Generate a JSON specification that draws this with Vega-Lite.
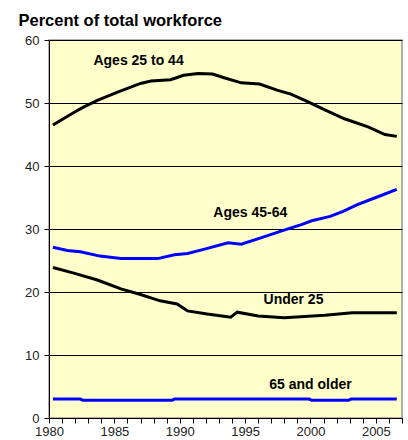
{
  "$schema": "https://vega.github.io/schema/vega-lite/v6.json",
  "width": 353,
  "height": 378,
  "autosize": "none",
  "padding": {"top": 40, "left": 49, "right": 6, "bottom": 22},
  "background": "white",
  "config": {
    "font": "Liberation Sans",
    "view": {"fill": "#FFFFCC", "stroke": "#999999", "strokeWidth": 1.5},
    "axis": {
      "labelFont": "Liberation Sans",
      "labelFontSize": 13,
      "labelColor": "#222222",
      "domainColor": "#000000",
      "tickColor": "#000000",
      "tickSize": 5,
      "labelOverlap": false,
      "labelBound": false,
      "labelFlush": false
    }
  },
  "datasets": {
    "lines": [
      {"series": "Ages 25 to 44", "year": 1980.3, "value": 46.5},
      {"series": "Ages 25 to 44", "year": 1981.1, "value": 47.5},
      {"series": "Ages 25 to 44", "year": 1982.0, "value": 48.6},
      {"series": "Ages 25 to 44", "year": 1982.6, "value": 49.3},
      {"series": "Ages 25 to 44", "year": 1983.7, "value": 50.4},
      {"series": "Ages 25 to 44", "year": 1985.2, "value": 51.7},
      {"series": "Ages 25 to 44", "year": 1987.0, "value": 53.1},
      {"series": "Ages 25 to 44", "year": 1987.8, "value": 53.5},
      {"series": "Ages 25 to 44", "year": 1989.3, "value": 53.7},
      {"series": "Ages 25 to 44", "year": 1990.3, "value": 54.4},
      {"series": "Ages 25 to 44", "year": 1991.4, "value": 54.7},
      {"series": "Ages 25 to 44", "year": 1992.5, "value": 54.6},
      {"series": "Ages 25 to 44", "year": 1993.4, "value": 54.0},
      {"series": "Ages 25 to 44", "year": 1994.7, "value": 53.2},
      {"series": "Ages 25 to 44", "year": 1996.1, "value": 53.0},
      {"series": "Ages 25 to 44", "year": 1997.5, "value": 52.0},
      {"series": "Ages 25 to 44", "year": 1998.5, "value": 51.4},
      {"series": "Ages 25 to 44", "year": 1999.7, "value": 50.3},
      {"series": "Ages 25 to 44", "year": 2001.1, "value": 48.9},
      {"series": "Ages 25 to 44", "year": 2002.6, "value": 47.5},
      {"series": "Ages 25 to 44", "year": 2004.4, "value": 46.2},
      {"series": "Ages 25 to 44", "year": 2005.7, "value": 45.0},
      {"series": "Ages 25 to 44", "year": 2006.6, "value": 44.7},

      {"series": "Ages 45-64", "year": 1980.3, "value": 27.1},
      {"series": "Ages 45-64", "year": 1981.4, "value": 26.6},
      {"series": "Ages 45-64", "year": 1982.4, "value": 26.4},
      {"series": "Ages 45-64", "year": 1983.9, "value": 25.7},
      {"series": "Ages 45-64", "year": 1985.5, "value": 25.3},
      {"series": "Ages 45-64", "year": 1988.3, "value": 25.3},
      {"series": "Ages 45-64", "year": 1989.6, "value": 25.9},
      {"series": "Ages 45-64", "year": 1990.6, "value": 26.1},
      {"series": "Ages 45-64", "year": 1991.9, "value": 26.8},
      {"series": "Ages 45-64", "year": 1993.7, "value": 27.8},
      {"series": "Ages 45-64", "year": 1994.7, "value": 27.6},
      {"series": "Ages 45-64", "year": 1996.2, "value": 28.6},
      {"series": "Ages 45-64", "year": 1997.8, "value": 29.7},
      {"series": "Ages 45-64", "year": 1999.3, "value": 30.7},
      {"series": "Ages 45-64", "year": 2000.1, "value": 31.3},
      {"series": "Ages 45-64", "year": 2001.5, "value": 32.0},
      {"series": "Ages 45-64", "year": 2002.5, "value": 32.8},
      {"series": "Ages 45-64", "year": 2003.5, "value": 33.8},
      {"series": "Ages 45-64", "year": 2004.5, "value": 34.6},
      {"series": "Ages 45-64", "year": 2005.5, "value": 35.4},
      {"series": "Ages 45-64", "year": 2006.6, "value": 36.3},

      {"series": "Under 25", "year": 1980.3, "value": 23.9},
      {"series": "Under 25", "year": 1981.9, "value": 23.0},
      {"series": "Under 25", "year": 1983.7, "value": 21.9},
      {"series": "Under 25", "year": 1985.5, "value": 20.5},
      {"series": "Under 25", "year": 1987.0, "value": 19.6},
      {"series": "Under 25", "year": 1988.5, "value": 18.6},
      {"series": "Under 25", "year": 1989.8, "value": 18.1},
      {"series": "Under 25", "year": 1990.6, "value": 17.0},
      {"series": "Under 25", "year": 1992.1, "value": 16.5},
      {"series": "Under 25", "year": 1993.5, "value": 16.1},
      {"series": "Under 25", "year": 1993.9, "value": 16.0},
      {"series": "Under 25", "year": 1994.4, "value": 16.8},
      {"series": "Under 25", "year": 1996.0, "value": 16.2},
      {"series": "Under 25", "year": 1998.0, "value": 15.9},
      {"series": "Under 25", "year": 2001.1, "value": 16.3},
      {"series": "Under 25", "year": 2003.2, "value": 16.7},
      {"series": "Under 25", "year": 2006.6, "value": 16.7},

      {"series": "65 and older", "year": 1980.3, "value": 3.0},
      {"series": "65 and older", "year": 1982.4, "value": 3.0},
      {"series": "65 and older", "year": 1982.6, "value": 2.8},
      {"series": "65 and older", "year": 1989.4, "value": 2.8},
      {"series": "65 and older", "year": 1989.6, "value": 3.0},
      {"series": "65 and older", "year": 1999.9, "value": 3.0},
      {"series": "65 and older", "year": 2000.1, "value": 2.8},
      {"series": "65 and older", "year": 2002.9, "value": 2.8},
      {"series": "65 and older", "year": 2003.1, "value": 3.0},
      {"series": "65 and older", "year": 2006.6, "value": 3.0}
    ],
    "labels": [
      {"label": "Ages 25 to 44", "year": 1986.85, "value": 56.7},
      {"label": "Ages 45-64", "year": 1995.4, "value": 32.6},
      {"label": "Under 25", "year": 1998.7, "value": 18.7},
      {"label": "65 and older", "year": 2000.0, "value": 5.2}
    ]
  },
  "encoding": {
    "x": {
      "field": "year",
      "type": "quantitative",
      "scale": {"domain": [1980, 2007], "nice": false, "zero": false},
      "axis": {
        "title": null,
        "values": [1980,1981,1982,1983,1984,1985,1986,1987,1988,1989,1990,1991,1992,1993,1994,1995,1996,1997,1998,1999,2000,2001,2002,2003,2004,2005,2006,2007],
        "labelExpr": "datum.value % 5 === 0 ? datum.label : ''",
        "format": "d",
        "grid": false,
        "labelPadding": 2,
        "labelOverlap": false
      }
    },
    "y": {
      "field": "value",
      "type": "quantitative",
      "scale": {"domain": [0, 60], "nice": false},
      "axis": {
        "values": [0, 10, 20, 30, 40, 50, 60],
        "grid": true,
        "gridColor": "#000000",
        "gridOpacity": 1,
        "gridWidth": 1,
        "labelPadding": 5,
        "title": "Percent of total workforce",
        "titleAngle": 0,
        "titleAlign": "left",
        "titleBaseline": "alphabetic",
        "titleX": -31,
        "titleY": -15,
        "titleFont": "Liberation Sans",
        "titleFontSize": 16.5,
        "titleFontWeight": "bold",
        "titleColor": "#000000"
      }
    }
  },
  "layer": [
    {
      "data": {"name": "lines"},
      "mark": {"type": "line", "strokeWidth": 3, "clip": true},
      "encoding": {
        "detail": {"field": "series"},
        "color": {
          "field": "series",
          "type": "nominal",
          "scale": {
            "domain": ["Ages 25 to 44", "Ages 45-64", "Under 25", "65 and older"],
            "range": ["#000000", "#0000FF", "#000000", "#0000FF"]
          },
          "legend": null
        }
      }
    },
    {
      "data": {"name": "labels"},
      "mark": {"type": "text", "font": "Liberation Sans", "fontSize": 14, "fontWeight": "bold", "color": "#000000", "align": "center", "baseline": "middle"},
      "encoding": {
        "text": {"field": "label"}
      }
    }
  ]
}
